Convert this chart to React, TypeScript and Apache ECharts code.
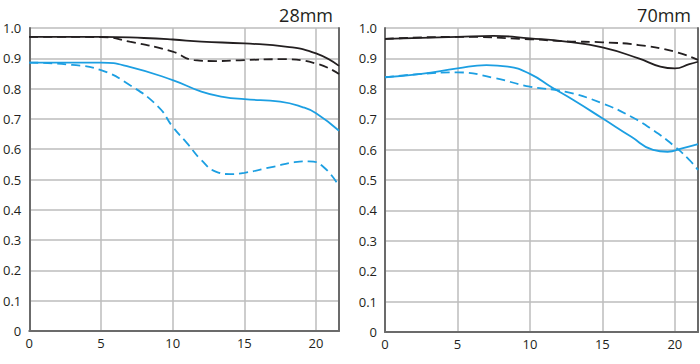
import React, { useEffect, useRef } from "react";
import * as echarts from "echarts";

// ---- tick labels / titles ----
const panelTitles = ["28mm", "70mm"];
const xTicks = [0, 5, 10, 15, 20];
const yTicks = [0, 0.1, 0.2, 0.3, 0.4, 0.5, 0.6, 0.7, 0.8, 0.9, 1.0];
const xMax = 21.6;

// ---- 28mm panel ----
const L_blackSolidX = [0, 5, 8, 10, 12, 15, 18, 20, 21.6];
const L_blackSolidY = [0.971, 0.971, 0.967, 0.962, 0.955, 0.949, 0.938, 0.916, 0.875];
const L_blackDashX = [0, 5, 7, 10, 11.5, 13, 15, 17.5, 20, 21.6];
const L_blackDashY = [0.971, 0.97, 0.955, 0.922, 0.894, 0.891, 0.894, 0.897, 0.883, 0.848];
const L_blueSolidX = [0, 5, 7, 10, 12, 13.5, 15, 17.5, 19, 20, 21.6];
const L_blueSolidY = [0.886, 0.886, 0.872, 0.828, 0.79, 0.773, 0.765, 0.757, 0.74, 0.719, 0.661];
const L_blueDashX = [0, 3, 5, 7, 9, 10, 11, 12, 13, 14, 15, 17, 18.5, 19.5, 20.5, 21.6];
const L_blueDashY = [0.886, 0.878, 0.861, 0.812, 0.74, 0.674, 0.62, 0.564, 0.526, 0.518, 0.522, 0.542, 0.557, 0.56, 0.542, 0.478];

// ---- 70mm panel ----
const R_blackSolidX = [0, 5, 7.5, 10, 12.5, 15, 17.5, 19, 20, 21, 21.6];
const R_blackSolidY = [0.964, 0.971, 0.974, 0.966, 0.955, 0.936, 0.9, 0.873, 0.867, 0.881, 0.889];
const R_blackDashX = [0, 5, 10, 12.5, 15, 17.5, 20, 21.6];
const R_blackDashY = [0.964, 0.971, 0.963, 0.956, 0.953, 0.944, 0.922, 0.895];
const R_blueSolidX = [0, 2.5, 5, 7, 8.5, 10, 11.5, 13, 15, 17, 18.5, 19.5, 20.5, 21.6];
const R_blueSolidY = [0.838, 0.849, 0.867, 0.878, 0.873, 0.849, 0.805, 0.763, 0.703, 0.642, 0.599, 0.593, 0.604, 0.618];
const R_blueDashX = [0, 2.5, 5, 7.5, 10, 12.5, 15, 17, 18.5, 20, 21, 21.6];
const R_blueDashY = [0.838, 0.849, 0.854, 0.836, 0.807, 0.79, 0.752, 0.708, 0.664, 0.61, 0.566, 0.533];

const BLACK = "#231f20";
const BLUE = "#1c9fe2";
const AXIS = "#6b6b6b";
const GRID = "#bdbdbd";
const FONT = "'Open Sans', 'Noto Sans', sans-serif";

const zip = (xs: number[], ys: number[]) => xs.map((x, i) => [x, ys[i]]);

export default function App() {
  const ref = useRef<HTMLDivElement>(null);
  useEffect(() => {
    if (!ref.current) return;
    const chart = echarts.init(ref.current, undefined, { renderer: "svg" });

    const grids = [
      { left: 28, top: 28, width: 311, height: 303 },
      { left: 385, top: 28, width: 313, height: 304 },
    ];

    const xAxes = grids.map((_, i) => ({
      type: "value",
      gridIndex: i,
      min: 0,
      max: xMax,
      interval: 5,
      axisLine: { show: true, lineStyle: { color: AXIS, width: 2 } },
      axisTick: { show: false },
      axisLabel: {
        color: BLACK,
        fontSize: 13,
        fontFamily: FONT,
        margin: 5,
        showMaxLabel: false,
        formatter: (v: number) => (xTicks.includes(v) ? String(v) : ""),
      },
      splitLine: { show: true, lineStyle: { color: GRID, width: 1.5 } },
    }));

    const yAxes: any[] = [];
    grids.forEach((_, i) => {
      yAxes.push({
        type: "value",
        gridIndex: i,
        min: 0,
        max: 1,
        interval: 0.1,
        axisLine: { show: true, lineStyle: { color: AXIS, width: 2 } },
        axisTick: { show: false },
        axisLabel: {
          color: BLACK,
          fontSize: 13,
          fontFamily: FONT,
          margin: 8,
          formatter: (v: number) => {
            const t = yTicks.find((k) => Math.abs(k - v) < 1e-6);
            if (t === undefined) return "";
            return t === 0 ? "0" : t.toFixed(1);
          },
        },
        splitLine: { show: true, lineStyle: { color: GRID, width: 1.5 } },
      });
      yAxes.push({
        type: "value",
        gridIndex: i,
        position: "right",
        min: 0,
        max: 1,
        axisLine: { show: true, onZero: false, lineStyle: { color: AXIS, width: 2 } },
        axisTick: { show: false },
        axisLabel: { show: false },
        splitLine: { show: false },
      });
    });

    const mk = (xs: number[], ys: number[], color: string, dashed: boolean, gi: number) => ({
      type: "line",
      xAxisIndex: gi,
      yAxisIndex: gi * 2,
      data: zip(xs, ys),
      smooth: 0.5,
      showSymbol: false,
      symbol: "none",
      clip: true,
      lineStyle: { color, width: 1.8, type: dashed ? [9, 5] : "solid" },
    });

    chart.setOption({
      animation: false,
      grid: grids,
      xAxis: xAxes,
      yAxis: yAxes,
      title: [
        {
          text: panelTitles[0],
          right: 700 - 333,
          top: 6,
          textStyle: { color: BLACK, fontSize: 18, fontWeight: "normal", fontFamily: FONT },
          padding: 0,
        },
        {
          text: panelTitles[1],
          right: 700 - 691,
          top: 6,
          textStyle: { color: BLACK, fontSize: 18, fontWeight: "normal", fontFamily: FONT },
          padding: 0,
        },
      ],
      series: [
        mk(L_blackSolidX, L_blackSolidY, BLACK, false, 0),
        mk(L_blackDashX, L_blackDashY, BLACK, true, 0),
        mk(L_blueSolidX, L_blueSolidY, BLUE, false, 0),
        mk(L_blueDashX, L_blueDashY, BLUE, true, 0),
        mk(R_blackSolidX, R_blackSolidY, BLACK, false, 1),
        mk(R_blackDashX, R_blackDashY, BLACK, true, 1),
        mk(R_blueSolidX, R_blueSolidY, BLUE, false, 1),
        mk(R_blueDashX, R_blueDashY, BLUE, true, 1),
      ],
    });
    return () => chart.dispose();
  }, []);

  return (
    <div
      ref={ref}
      style={{ position: "fixed", left: 0, top: 0, width: 700, height: 364, background: "#fff" }}
    />
  );
}
